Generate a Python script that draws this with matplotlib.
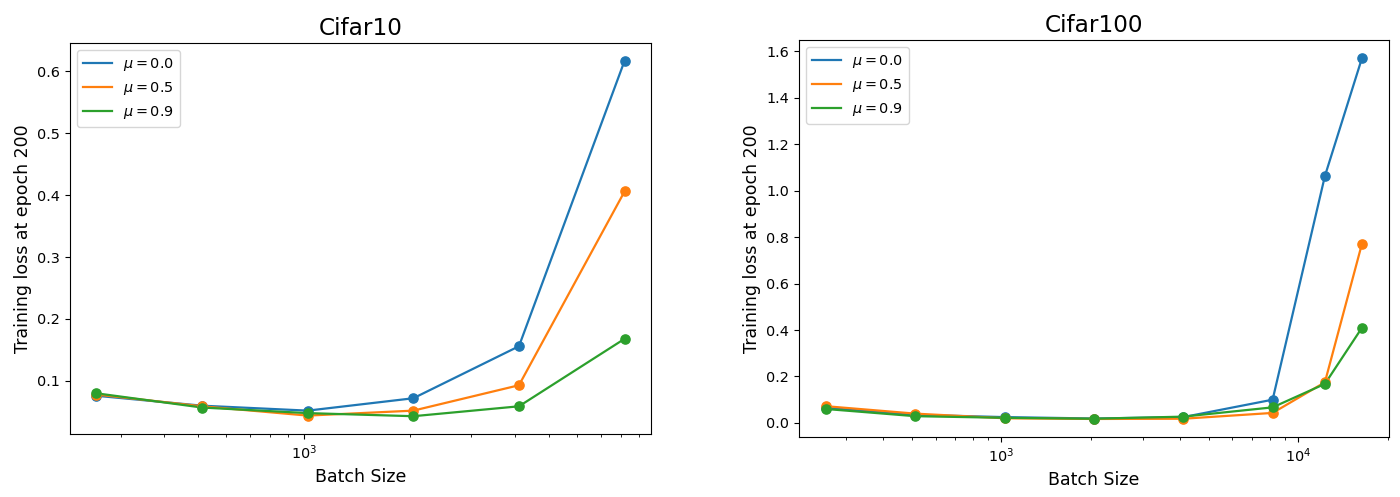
import numpy as np
import matplotlib
matplotlib.use("Agg")
import matplotlib.pyplot as plt

# batch sizes
bs_c10 = [256, 512, 1024, 2048, 4096, 8192]
bs_c100 = [256, 512, 1024, 2048, 4096, 8192, 12288, 16384]

momenta = [0.0, 0.5, 0.9]

# training loss at epoch 200, one list per momentum
loss_c10 = [
    [0.076, 0.060, 0.052, 0.072, 0.156, 0.617],
    [0.078, 0.059, 0.044, 0.052, 0.093, 0.406],
    [0.080, 0.057, 0.048, 0.043, 0.059, 0.168],
]
loss_c100 = [
    [0.065, 0.035, 0.025, 0.019, 0.025, 0.100, 1.063, 1.571],
    [0.072, 0.040, 0.020, 0.017, 0.018, 0.043, 0.175, 0.772],
    [0.060, 0.029, 0.022, 0.018, 0.027, 0.067, 0.168, 0.410],
]

colors = ["#1f77b4", "#ff7f0e", "#2ca02c"]

plt.rcParams["xtick.labelsize"] = 10.4
plt.rcParams["ytick.labelsize"] = 10.4

fig = plt.figure(figsize=(14, 4.97), dpi=100)
ax1 = fig.add_axes([0.05, 0.1268, 0.415, 0.7867])
ax2 = fig.add_axes([0.5707, 0.1207, 0.4213, 0.7988])


def draw(ax, bs, losses, title):
    for mu, loss, c in zip(momenta, losses, colors):
        ax.plot(bs, loss, color=c, lw=1.6, label=r"$\mu = %.1f$" % mu)
        ax.scatter(bs, loss, color=c, s=44, zorder=3)
    ax.set_xscale("log")
    ax.set_title(title, fontsize=16.7)
    ax.set_xlabel("Batch Size", fontsize=12.5)
    ax.set_ylabel("Training loss at epoch 200", fontsize=12.5)
    ax.legend(loc="upper left", fontsize=10.4)


draw(ax1, bs_c10, loss_c10, "Cifar10")
draw(ax2, bs_c100, loss_c100, "Cifar100")

fig.savefig("out.png", dpi=100)
